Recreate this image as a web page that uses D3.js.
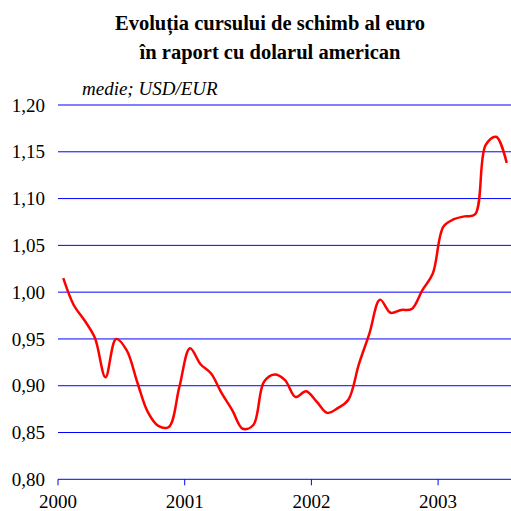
<!DOCTYPE html>
<meta charset="utf-8">
<script src="https://cdn.jsdelivr.net/npm/d3@7"></script>
<style>
  body { margin: 0; background: #fff; }
  text { font-family: "Liberation Serif", "Times New Roman", serif; fill: #000; }
</style>
<body>
<script>

// monthly averages, Jan 2000 .. Jul 2003
var startYear = 2000
var usdEur = [
  1.015, 0.986, 0.970, 0.951, 0.909, 0.950, 0.938, 0.904, 0.872, 0.857, 0.856, 0.899,
  0.940, 0.923, 0.913, 0.892, 0.874, 0.854, 0.858, 0.904, 0.912, 0.906, 0.888, 0.894,
  0.883, 0.871, 0.876, 0.885, 0.923, 0.956, 0.992, 0.978, 0.981, 0.982, 1.002, 1.020,
  1.070, 1.078, 1.081, 1.083, 1.157, 1.166, 1.138
]
var yearTicks = [2000, 2001, 2002, 2003]
var yTicks = [0.80, 0.85, 0.90, 0.95, 1.00, 1.05, 1.10, 1.15, 1.20]
var titleLines = ["Evoluția cursului de schimb al euro", "în raport cu dolarul american"]
var unitLabel = "medie; USD/EUR"

var width = 511
var height = 511

var x = d3.scaleLinear()
  .domain([startYear, startYear + usdEur.length / 12])
  .range([58, 512])
var y = d3.scaleLinear()
  .domain([0.80, 1.20])
  .range([479.3, 105])

var svg = d3.select("body").append("svg")
  .attr("width", width)
  .attr("height", height)

svg.append("g").selectAll("text")
  .data(titleLines)
  .enter().append("text")
  .attr("x", 270)
  .attr("y", function(d, i) { return 29.5 + i * 29.5 })
  .attr("text-anchor", "middle")
  .style("font-weight", "bold")
  .style("font-size", "20.5px")
  .text(function(d) { return d })

svg.append("text")
  .attr("x", 82)
  .attr("y", 95)
  .style("font-style", "italic")
  .style("font-size", "19px")
  .text(unitLabel)

// horizontal grid
svg.append("g").selectAll("line")
  .data(yTicks)
  .enter().append("line")
  .attr("x1", x.range()[0]).attr("x2", width)
  .attr("y1", function(d) { return y(d) })
  .attr("y2", function(d) { return y(d) })
  .attr("stroke", "#0000ff")
  .attr("stroke-width", 1)

var fmt = d3.format(".2f")
svg.append("g").selectAll("text")
  .data(yTicks)
  .enter().append("text")
  .attr("x", 45)
  .attr("y", function(d) { return y(d) })
  .attr("dy", "0.35em")
  .attr("text-anchor", "end")
  .style("font-size", "19px")
  .text(function(d) { return fmt(d).replace(".", ",") })

// year ticks below the 0,80 line
var xAxis = svg.append("g")
  .attr("transform", "translate(0," + y(0.80) + ")")
xAxis.selectAll("line")
  .data(yearTicks)
  .enter().append("line")
  .attr("x1", function(d) { return x(d) })
  .attr("x2", function(d) { return x(d) })
  .attr("y1", 0).attr("y2", 6)
  .attr("stroke", "#0000ff")
xAxis.selectAll("text")
  .data(yearTicks)
  .enter().append("text")
  .attr("x", function(d) { return x(d) })
  .attr("y", 28.5)
  .attr("text-anchor", "middle")
  .style("font-size", "19px")
  .text(function(d) { return d })

var line = d3.line()
  .x(function(d, i) { return x(startYear + (i + 0.5) / 12) })
  .y(function(d) { return y(d) })
  .curve(d3.curveCatmullRom.alpha(0.5))

svg.append("path")
  .attr("d", line(usdEur))
  .attr("fill", "none")
  .attr("stroke", "#ff0000")
  .attr("stroke-width", 2.5)

</script>
</body>
